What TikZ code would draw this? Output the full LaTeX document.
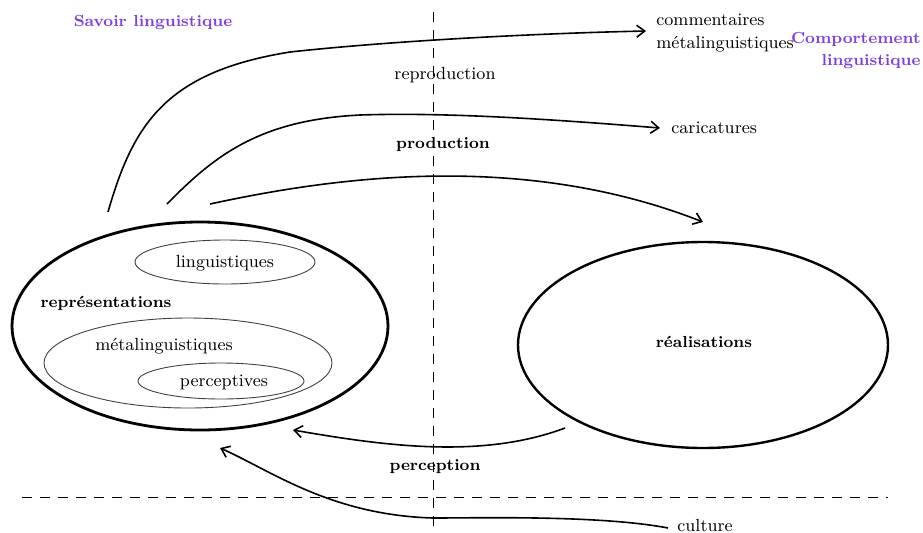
\documentclass[tikz,border=0pt]{standalone}
\usetikzlibrary{shapes.geometric,arrows.meta}
\definecolor{purp}{RGB}{130,62,222}
\begin{document}
\begin{tikzpicture}[x=0.5pt,y=-0.5pt,
  txt/.style={font=\fontsize{8.8}{11.5}\selectfont, inner sep=0pt},
  btxt/.style={font=\fontsize{8}{11}\selectfont\bfseries, inner sep=0pt},
  ptxt/.style={font=\fontsize{8}{11}\selectfont\bfseries, text=purp, inner sep=0pt},
  bigell/.style={draw, ellipse, line width=1.4pt, inner sep=0pt},
  smell/.style={draw=black!75, ellipse, line width=0.45pt, inner sep=0pt},
  arr/.style={line width=0.8pt, -{Straight Barb[length=4pt,width=6pt]}},
  guide/.style={line width=0.5pt, dash pattern=on 5pt off 4pt}
]
\useasboundingbox (0,0) rectangle (923,532);
% guides
\coordinate (vt) at (433,12); \coordinate (vb) at (433,532);
\coordinate (hl) at (22,497); \coordinate (hr) at (888,497);
\draw[guide] (vt) -- (vb);
\draw[guide] (hl) -- (hr);
% ellipses
\node[bigell, minimum width=188pt, minimum height=104pt] (rep) at (200,326) {};
\node[smell, minimum width=90pt, minimum height=22pt] (ling) at (225,262) {};
\node[txt] (lingt) at (225,263) {linguistiques};
\node[btxt] (rept) at (106,303) {représentations};
\node[smell, minimum width=144pt, minimum height=45pt] (meta) at (188,363) {};
\node[txt] (metat) at (164,346) {métalinguistiques};
\node[smell, minimum width=83pt, minimum height=18pt] (perc) at (221,381) {};
\node[txt] (perct) at (224,382) {perceptives};
\node[bigell, line width=1.2pt, minimum width=185pt, minimum height=103pt] (real) at (703,345) {};
\node[btxt] (realt) at (704,342) {réalisations};
% labels
\node[ptxt] (savoir) at (153,23) {Savoir linguistique};
\node[ptxt, align=right, anchor=east] (comp) at (921,51) {Comportement\\linguistique};
\node[txt, align=left, anchor=west] (comm) at (656,33) {commentaires\\métalinguistiques};
\node[txt, anchor=west] (cari) at (671,128) {caricatures};
\node[txt] (repro) at (445,75) {reproduction};
\node[btxt] (prod) at (443,144) {production};
\node[btxt] (percl) at (435,467) {perception};
\node[txt, anchor=west] (cult) at (677,525) {culture};
% arrows
\coordinate (a1) at (108,212);
\coordinate (a1e) at (646,31);
\coordinate (a2) at (167,204);
\coordinate (a2e) at (660,128);
\coordinate (a3) at (210,204);
\coordinate (a3e) at (703,222);
\coordinate (p1) at (565,428);
\coordinate (p1e) at (293,430);
\coordinate (c1) at (668,528);
\coordinate (c1e) at (220,448);
\draw[arr] (a1) .. controls (133,125) and (165,72) .. (290,52) .. controls (400,40) and (550,33) .. (a1e);
\draw[arr] (a2) .. controls (215,155) and (260,120) .. (360,115) .. controls (450,112) and (560,120) .. (a2e);
\draw[arr] (a3) .. controls (330,178) and (520,150) .. (a3e);
\draw[arr] (p1) .. controls (480,460) and (380,445) .. (p1e);
\draw[arr] (c1) .. controls (600,515) and (480,518) .. (433,518) .. controls (330,515) and (270,470) .. (c1e);
\end{tikzpicture}
\end{document}
